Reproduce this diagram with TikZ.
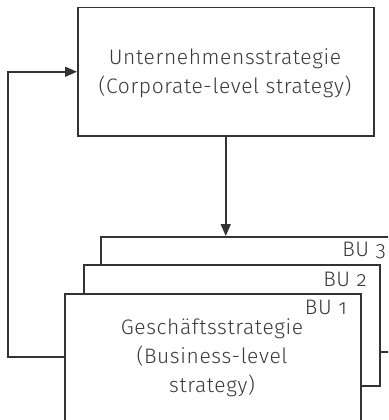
\documentclass[tikz,border=0pt]{standalone}
\usepackage{fontspec}
\setmainfont{Fira Sans}[UprightFont=* Light, Numbers=OldStyle, LetterSpace=3]
\usetikzlibrary{arrows.meta}
\definecolor{ink}{HTML}{333333}
\definecolor{txt}{HTML}{3A3A3A}
\tikzset{
  box/.style={draw=ink, line width=1.5pt, fill=white, anchor=north west, inner sep=0pt},
  lbl/.style={text=txt, font=\fontsize{21}{29}\selectfont, align=center, inner sep=0pt},
  bu/.style={text=txt, font=\fontsize{21}{22}\selectfont, anchor=east, inner sep=0pt},
  link/.style={draw=ink, line width=1.5pt, -{Triangle[length=12pt,width=10pt]}}
}
\begin{document}
\begin{tikzpicture}[x=1pt,y=1pt]
\useasboundingbox (0,0) rectangle (388,-420);
\clip (0,0) rectangle (388,-420);
% corporate level
\node[box, minimum width=296pt, minimum height=128pt] (top) at (77,-7) {};
\node[lbl] (toptext) at (225,-73) {Unternehmensstrategie\\(Corporate-level strategy)};
% stacked business units
\node[box, minimum width=320pt, minimum height=115pt] (bu3) at (100,-236) {};
\node[bu] (bu3t) at (386,-251) {BU 3};
\node[box, minimum width=296pt, minimum height=121pt] (bu2) at (83,-264) {};
\node[bu] (bu2t) at (367,-279) {BU 2};
\node[box, minimum width=296pt, minimum height=140pt] (bu1) at (64,-293) {};
\node[bu] (bu1t) at (347,-307) {BU 1};
\node[lbl] (bu1text) at (212,-358) {Geschäftsstrategie\\(Business-level\\strategy)};
% connectors
\draw[link] (top.south) -- (top.south |- bu3.north);
\coordinate (fb) at (64,-357);
\draw[link] (fb) -- ++(-56,0) |- (top.west);
\end{tikzpicture}
\end{document}
